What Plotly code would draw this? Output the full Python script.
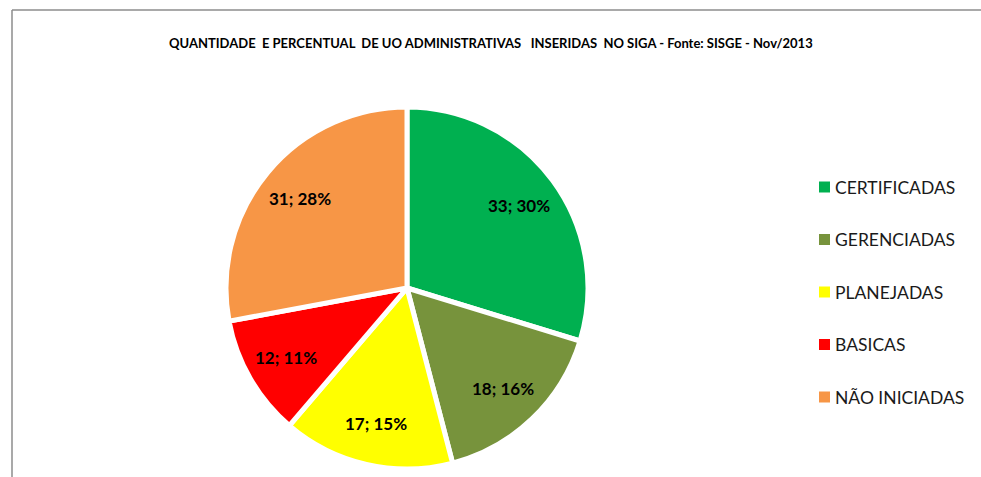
import math
import plotly.graph_objects as go

categories = ["CERTIFICADAS", "GERENCIADAS", "PLANEJADAS", "BASICAS", "NÃO INICIADAS"]
values = [33, 18, 17, 12, 31]
colors = ["#00B050", "#77933C", "#FFFF00", "#FF0000", "#F79646"]
title = "QUANTIDADE  E PERCENTUAL  DE UO ADMINISTRATIVAS   INSERIDAS  NO SIGA - Fonte: SISGE - Nov/2013"

W, H = 981, 477
cx, cy, R = 407, 288, 181

fig = go.Figure()
fig.add_trace(go.Pie(
    labels=categories, values=values, sort=False, direction="clockwise", rotation=0,
    marker=dict(colors=colors, line=dict(color="white", width=5)),
    textinfo="none",
    showlegend=False, hoverinfo="label+value+percent",
    domain=dict(x=[(cx - R) / W, (cx + R) / W], y=[(H - cy - R) / H, (H - cy + R) / H]),
))

shapes = [
    dict(type="line", xref="paper", yref="paper", x0=12 / W, x1=1, y0=1 - 10 / H, y1=1 - 10 / H,
         line=dict(color="#8c8c8c", width=1.5)),
    dict(type="line", xref="paper", yref="paper", x0=12 / W, x1=12 / W, y0=0, y1=1 - 10 / H,
         line=dict(color="#8c8c8c", width=1.5)),
]
annotations = [dict(text=title, x=491 / W, y=1 - 33 / H, xref="paper", yref="paper",
                    showarrow=False, font=dict(family="Lato", size=13, color="black", weight="bold"))]

# data labels placed at the middle angle of each slice
total = sum(values)
cum = 0
for v in values:
    mid = (cum + v / 2) / total * 2 * math.pi
    cum += v
    r = 0.77 * R
    px = cx + r * math.sin(mid)
    py = cy - r * math.cos(mid)
    annotations.append(dict(text=f"{v}; {round(100 * v / total)}%", x=px / W, y=1 - py / H,
                            xref="paper", yref="paper", showarrow=False,
                            xanchor="center", yanchor="middle",
                            font=dict(family="Lato", size=17, color="black", weight="bold")))

leg_x, leg_y0, leg_dy = 819, 187, 52.5
for i, (lab, col) in enumerate(zip(categories, colors)):
    yc = leg_y0 + i * leg_dy
    shapes.append(dict(type="rect", xref="paper", yref="paper",
                       x0=leg_x / W, x1=(leg_x + 11) / W,
                       y0=1 - (yc + 5.5) / H, y1=1 - (yc - 5.5) / H,
                       fillcolor=col, line=dict(width=0)))
    annotations.append(dict(text=lab, x=(leg_x + 14) / W, y=1 - yc / H, xref="paper", yref="paper",
                            xanchor="left", yanchor="middle", showarrow=False,
                            font=dict(family="Lato", size=17.5, color="#1a1a1a")))

fig.update_layout(width=W, height=H, margin=dict(l=0, r=0, t=0, b=0),
                  paper_bgcolor="white", plot_bgcolor="white",
                  shapes=shapes, annotations=annotations)
fig.write_html("out.html")
